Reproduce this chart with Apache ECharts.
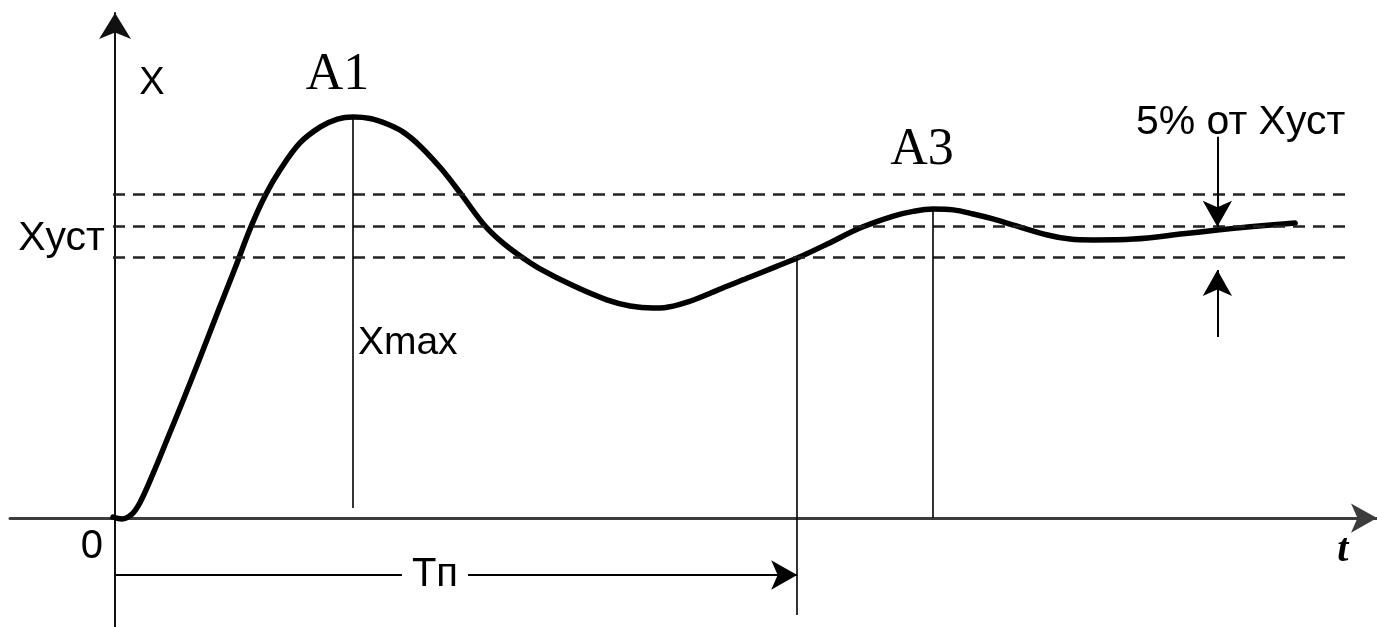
<!DOCTYPE html>
<html>
<head>
<meta charset="utf-8">
<style>
html,body{margin:0;padding:0;background:#fff;}
#chart{width:1377px;height:627px;}
</style>
<script src="https://cdn.jsdelivr.net/npm/echarts@6/dist/echarts.min.js"></script>
</head>
<body>
<div id="chart"></div>
<script>
// ---- data ----
const timeValues = [-0.03,0.10,0.25,0.37,0.56,0.76,1.00,1.25,1.50,1.76,1.98,2.20,2.42,2.71,3.01,3.26,3.49,3.74,3.99,4.22,4.47,4.77,5.06,5.40,5.65,5.94,6.23,6.72,7.21,7.55,7.89,8.05,8.40,8.75,8.94,9.31,9.68,10.00,10.44,10.92,11.41,11.70,11.99,12.29,12.58,12.87,13.17,13.67,14.00,14.34,14.93,15.66,16.16,16.64,17.30];
const responseValues = [0.003,-0.003,0.014,0.055,0.154,0.267,0.404,0.551,0.702,0.856,0.990,1.103,1.192,1.284,1.339,1.366,1.373,1.368,1.349,1.322,1.274,1.199,1.113,1.007,0.949,0.897,0.853,0.795,0.747,0.726,0.719,0.720,0.740,0.772,0.791,0.825,0.860,0.890,0.938,0.993,1.034,1.050,1.058,1.055,1.041,1.024,1.003,0.969,0.955,0.952,0.955,0.973,0.986,0.997,1.010];
const steadyValue = 1.0;
const bandUpper = 1.109;
const bandLower = 0.893;
const settleTime = 10.0;
const bandTimeRange = [-0.03, 18.1];
const tolMarkTime = 16.16;
const tolArrowDown = [1.305, 0.997];
const tolArrowUp = [0.620, 0.849];
const settleArrowLevel = -0.195;
const peakLineBottom = 0.034;
const settleLineBottom = -0.332;
const labelTexts = ['X','Xуст','Xmax','A1','A3','5% от Xуст','0','t','Tп'];
const labelAnchors = [[0.54,1.486],[-0.15,0.955],[3.56,0.60],[3.26,1.515],[11.83,1.258],[16.5,1.355],[-0.34,-0.10],[18.0,-0.11],[4.69,-0.195]];

// ---- derived ----
const curve = timeValues.map((t,i)=>[t,responseValues[i]]);
let iA1 = 0;
for (let i=0;i<timeValues.length;i++){ if (timeValues[i] < 6 && responseValues[i] > responseValues[iA1]) iA1 = i; }
let iA3 = -1;
for (let i=0;i<timeValues.length;i++){ if (timeValues[i] > 10 && (iA3<0 || responseValues[i] > responseValues[iA3])) iA3 = i; }

const thin = {color:'#000', width:1.6, type:'solid'};
const dash = {color:'#222', width:2.5, type:[12,8]};
const arrowStyle = {color:'#000', width:2, type:'solid'};

const markLines = [
  [{coord:[bandTimeRange[0],bandUpper],lineStyle:dash},{coord:[bandTimeRange[1],bandUpper]}],
  [{coord:[bandTimeRange[0],steadyValue],lineStyle:dash},{coord:[bandTimeRange[1],steadyValue]}],
  [{coord:[bandTimeRange[0],bandLower],lineStyle:dash},{coord:[bandTimeRange[1],bandLower]}],
  [{coord:[timeValues[iA1],responseValues[iA1]],lineStyle:thin},{coord:[timeValues[iA1],peakLineBottom]}],
  [{coord:[timeValues[iA3],responseValues[iA3]],lineStyle:thin},{coord:[timeValues[iA3],0]}],
  [{coord:[settleTime,bandLower],lineStyle:thin},{coord:[settleTime,settleLineBottom]}],
  [{coord:[0,settleArrowLevel],lineStyle:arrowStyle,symbol:'none'},{coord:[settleTime,settleArrowLevel],symbol:'arrow',symbolSize:[22,26]}],
  [{coord:[tolMarkTime,tolArrowDown[0]],lineStyle:arrowStyle,symbol:'none'},{coord:[tolMarkTime,tolArrowDown[1]],symbol:'arrow',symbolSize:[22,26]}],
  [{coord:[tolMarkTime,tolArrowUp[0]],lineStyle:arrowStyle,symbol:'none'},{coord:[tolMarkTime,tolArrowUp[1]],symbol:'arrow',symbolSize:[22,26]}]
];

const labelStyles = [
  {fontFamily:'Liberation Sans',fontSize:38,align:'center'},
  {fontFamily:'Liberation Sans',fontSize:41,align:'right'},
  {fontFamily:'Liberation Sans',fontSize:39,align:'left'},
  {fontFamily:'Liberation Serif',fontSize:52,align:'center'},
  {fontFamily:'Liberation Serif',fontSize:52,align:'center'},
  {fontFamily:'Liberation Sans',fontSize:41,align:'center'},
  {fontFamily:'Liberation Sans',fontSize:40,align:'center'},
  {fontFamily:'Liberation Serif',fontSize:40,align:'center',fontStyle:'italic',fontWeight:'bold'},
  {fontFamily:'Liberation Sans',fontSize:40,align:'center',backgroundColor:'#fff',padding:[0,10]}
];
const labelData = labelTexts.map((txt,i)=>({
  value: labelAnchors[i],
  label: Object.assign({show:true,formatter:txt,position:'inside',color:'#000',opacity:1,textBorderWidth:0,verticalAlign:'middle'}, labelStyles[i])
}));

const chart = echarts.init(document.getElementById('chart'));
chart.setOption({
  animation:false,
  backgroundColor:'#fff',
  grid:{left:10,right:0,top:13,bottom:0,containLabel:false},
  xAxis:{type:'value',min:-1.54,max:18.5,
    axisLine:{show:true,onZero:true,symbol:['none','arrow'],symbolSize:[22,26],lineStyle:{color:'#3c3c3c',width:3}},
    axisTick:{show:false},axisLabel:{show:false},splitLine:{show:false}},
  yAxis:{type:'value',min:-0.373,max:1.729,
    axisLine:{show:true,onZero:true,symbol:['none','arrow'],symbolSize:[24,26],lineStyle:{color:'#111',width:2}},
    axisTick:{show:false},axisLabel:{show:false},splitLine:{show:false}},
  series:[
    {type:'line',data:[],silent:true,z:2,
      markLine:{silent:true,symbol:['none','none'],label:{show:false},emphasis:{disabled:true},data:markLines}},
    {type:'line',data:curve,smooth:0.35,showSymbol:false,silent:true,z:3,
      lineStyle:{color:'#000',width:5.5,join:'round',cap:'round'}},
    {type:'scatter',data:labelData,symbolSize:0,itemStyle:{color:'#000'},silent:true,z:5}
  ]
});
</script>
</body>
</html>
